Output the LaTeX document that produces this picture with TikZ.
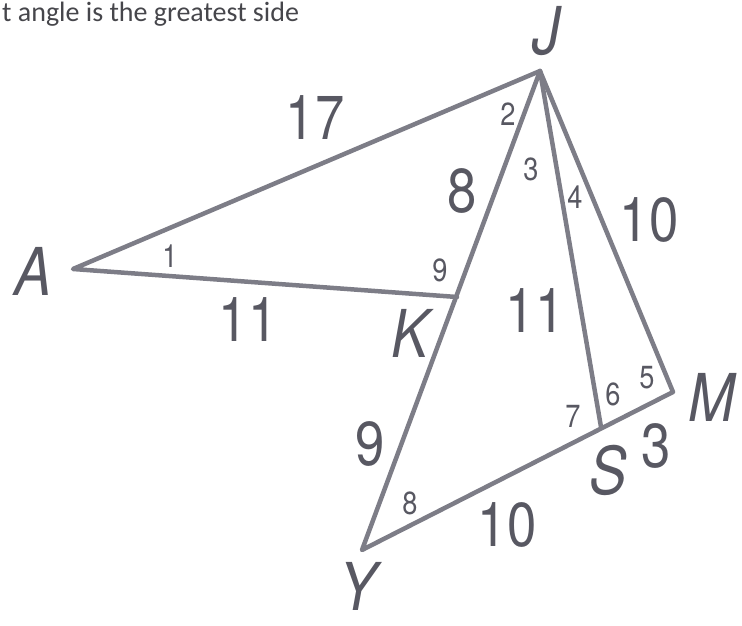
\documentclass[tikz,border=0pt]{standalone}
\usepackage{fontspec}
\newfontfamily\figfont[FakeStretch=0.85]{TeX Gyre Heros}
\newfontfamily\notefont{Carlito}
\definecolor{edgegray}{RGB}{125,125,135}
\definecolor{inkgray}{RGB}{88,88,98}
\definecolor{notegray}{RGB}{70,70,75}

\begin{document}
\begin{tikzpicture}[
  x=1pt, y=-1pt,
  seg/.style={draw=edgegray, line width=4.5pt, line join=round, line cap=round},
  vlabel/.style={text=inkgray, font=\figfont\itshape\fontsize{66}{66}\selectfont, inner sep=0},
  side/.style={text=inkgray, font=\figfont\fontsize{62}{62}\selectfont, inner sep=0},
  ang/.style={text=inkgray, font=\figfont\fontsize{32}{32}\selectfont, inner sep=0}
]
\useasboundingbox (0,0) rectangle (742,626);

% heading, cut off at the left
\node[anchor=base west, inner sep=0, text=notegray, font=\notefont\fontsize{28}{28}\selectfont] (note) at (2,22) {t angle is the greatest side};

% vertices
\coordinate (J) at (540,71);
\coordinate (A) at (73,269);
\coordinate (K) at (457,297);
\coordinate (Y) at (362,550);
\coordinate (M) at (673,392);
\coordinate (S) at (601,427);

% segments
\draw[seg] (K) -- (A) -- (J);
\draw[seg] (J) -- (Y) -- (M) -- (J);
\draw[seg] (J) -- (S);

% vertex labels
\node[vlabel] (lJ) at (547,31) {J};
\node[vlabel] (lA) at (33,271) {A};
\node[vlabel] (lK) at (410,333) {K};
\node[vlabel] (lY) at (358,586) {Y};
\node[vlabel] (lM) at (712,397) {M};
\node[vlabel] (lS) at (608,470) {S};

% side lengths
\node[side] (sAJ) at (315,118) {17};
\node[side] (sAK) at (248,320) {11};
\node[side] (sJK) at (462,191) {8};
\node[side] (sKY) at (370,444) {9};
\node[side] (sYS) at (507,525) {10};
\node[side] (sJS) at (535,311) {11};
\node[side] (sJM) at (649,220) {10};
\node[side] (sSM) at (656,446) {3};

% angle numbers
\node[ang] (a1) at (170,256) {1};
\node[ang] (a2) at (508,114) {2};
\node[ang] (a3) at (531,169) {3};
\node[ang] (a4) at (575,197) {4};
\node[ang] (a5) at (647,378) {5};
\node[ang] (a6) at (613,394) {6};
\node[ang] (a7) at (573,416) {7};
\node[ang] (a8) at (410,503) {8};
\node[ang] (a9) at (440,270) {9};
\end{tikzpicture}
\end{document}
